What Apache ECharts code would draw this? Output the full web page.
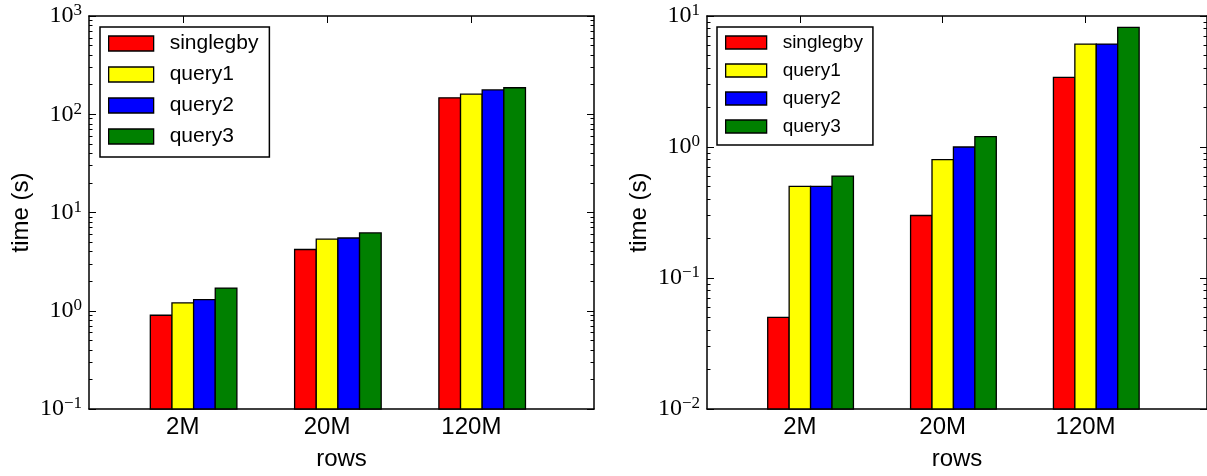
<!DOCTYPE html>
<html>
<head>
<meta charset="utf-8">
<script src="https://cdn.jsdelivr.net/npm/echarts@6/dist/echarts.min.js"></script>
<style>
  html, body { margin: 0; padding: 0; background: #fff; }
  #chart { width: 1207px; height: 476px; }
</style>
</head>
<body>
<div id="chart"></div>
<script>
// categories and series
var categories = ['2M', '20M', '120M'];
var seriesNames = ['singlegby', 'query1', 'query2', 'query3'];
var seriesColors = ['#ff0000', '#ffff00', '#0000ff', '#008000'];

// left panel, time (s)
var leftSinglegby = [0.9, 4.2, 147];
var leftQuery1 = [1.2, 5.35, 160];
var leftQuery2 = [1.3, 5.5, 177];
var leftQuery3 = [1.7, 6.2, 186];

// right panel, time (s)
var rightSinglegby = [0.05, 0.3, 3.4];
var rightQuery1 = [0.5, 0.8, 6.1];
var rightQuery2 = [0.5, 1.0, 6.1];
var rightQuery3 = [0.6, 1.2, 8.2];

// y tick decades (exponents)
var leftDecades = [-1, 0, 1, 2, 3];
var rightDecades = [-2, -1, 0, 1];

var barW = 0.15;                          // bar width in x units
var barOffsets = [-0.15, 0, 0.15, 0.3];   // group layout around each tick
var xMin = -0.65, xMax = 2.85;

var chart = echarts.init(document.getElementById('chart'));

function supLabel(v) {
    var e = Math.round(Math.log10(v));
    return '{b|10}{s|' + (e < 0 ? '\u2212' + (-e) : e) + '}';
}

function minorValues(decades) {
    var out = [];
    for (var i = 0; i < decades.length - 1; i++) {
        for (var k = 2; k <= 9; k++) {
            out.push(+(k * Math.pow(10, decades[i])).toPrecision(3));
        }
    }
    return out;
}

var axisLineStyle = { color: '#000', width: 1.5 };
var xTicks = [0, 1, 2];

function xAxes(grid) {
    return [{
        type: 'value', gridIndex: grid, position: 'bottom', min: xMin, max: xMax,
        axisLine: { show: true, onZero: false, lineStyle: axisLineStyle },
        axisTick: { show: true, inside: true, length: 7, customValues: xTicks, lineStyle: { color: '#000', width: 1 } },
        axisLabel: {
            show: true, customValues: xTicks, margin: 6,
            fontFamily: 'Liberation Sans', fontSize: 24, color: '#000',
            formatter: function (v) { return categories[Math.round(v)]; }
        },
        splitLine: { show: false },
        name: 'rows', nameLocation: 'middle', nameGap: 38,
        nameTextStyle: { fontFamily: 'Liberation Sans', fontSize: 24, color: '#000' }
    }, {
        type: 'value', gridIndex: grid, position: 'top', min: xMin, max: xMax,
        axisLine: { show: true, onZero: false, lineStyle: axisLineStyle },
        axisTick: { show: true, inside: true, length: 7, customValues: xTicks, lineStyle: { color: '#000', width: 1 } },
        axisLabel: { show: false },
        splitLine: { show: false }
    }];
}

function yAxes(grid, decades) {
    var min = Math.pow(10, decades[0]);
    var max = Math.pow(10, decades[decades.length - 1]);
    var major = decades.map(function (e) { return Math.pow(10, e); });
    var minor = minorValues(decades);
    function base(pos) {
        return {
            type: 'log', logBase: 10, gridIndex: grid, position: pos, min: min, max: max,
            splitLine: { show: false }, axisLabel: { show: false }
        };
    }
    var mainAxis = base('left');
    mainAxis.axisLine = { show: true, onZero: false, lineStyle: axisLineStyle };
    mainAxis.axisTick = { show: true, inside: true, length: 7, customValues: major, lineStyle: { color: '#000', width: 1 } };
    mainAxis.axisLabel = {
        show: true, customValues: major, margin: 7, formatter: supLabel,
        rich: {
            b: { fontFamily: 'Liberation Serif', fontSize: 24, color: '#000', lineHeight: 27 },
            s: { fontFamily: 'Liberation Serif', fontSize: 17, color: '#000', lineHeight: 17, verticalAlign: 'top' }
        }
    };
    mainAxis.name = 'time (s)';
    mainAxis.nameLocation = 'middle';
    mainAxis.nameGap = 56;
    mainAxis.nameTextStyle = { fontFamily: 'Liberation Sans', fontSize: 24, color: '#000' };

    var minorLeft = base('left');
    minorLeft.axisLine = { show: false, onZero: false };
    minorLeft.axisTick = { show: true, inside: true, length: 3.5, customValues: minor, lineStyle: { color: '#000', width: 1 } };

    var mainRight = base('right');
    mainRight.axisLine = { show: true, onZero: false, lineStyle: axisLineStyle };
    mainRight.axisTick = { show: true, inside: true, length: 7, customValues: major, lineStyle: { color: '#000', width: 1 } };

    var minorRight = base('right');
    minorRight.axisLine = { show: false, onZero: false };
    minorRight.axisTick = { show: true, inside: true, length: 3.5, customValues: minor, lineStyle: { color: '#000', width: 1 } };

    return [mainAxis, minorLeft, mainRight, minorRight];
}

function barSeries(name, idx, values, xIndex, yIndex, yMin) {
    return {
        type: 'custom', name: name,
        xAxisIndex: xIndex, yAxisIndex: yIndex,
        itemStyle: { color: seriesColors[idx] },
        encode: { x: 0, y: 1 },
        data: values.map(function (v, i) { return [i + barOffsets[idx], v]; }),
        renderItem: function (params, api) {
            var x = api.value(0), y = api.value(1);
            var l = api.coord([x - barW / 2, y]);
            var r = api.coord([x + barW / 2, y]);
            var b = api.coord([x, yMin]);
            return {
                type: 'rect',
                shape: { x: l[0], y: l[1], width: r[0] - l[0], height: b[1] - l[1] },
                style: { fill: api.visual('color'), stroke: '#000', lineWidth: 1.3 }
            };
        }
    };
}

var leftData = [leftSinglegby, leftQuery1, leftQuery2, leftQuery3];
var rightData = [rightSinglegby, rightQuery1, rightQuery2, rightQuery3];

var series = [];
leftData.forEach(function (vals, i) { series.push(barSeries(seriesNames[i], i, vals, 0, 0, 0.1)); });
rightData.forEach(function (vals, i) { series.push(barSeries(seriesNames[i], i, vals, 2, 4, 0.01)); });

function legend(left, top, w, h, gap, fs, pad, textPad) {
    return {
        orient: 'vertical', left: left, top: top, icon: 'rect',
        itemWidth: w, itemHeight: h, itemGap: gap,
        padding: pad, borderColor: '#000', borderWidth: 1.5, backgroundColor: '#fff',
        itemStyle: { borderColor: '#000', borderWidth: 1.3 },
        textStyle: { fontFamily: 'Liberation Sans', fontSize: fs, lineHeight: fs, color: '#000', padding: [0, 0, 0, textPad] },
        data: seriesNames
    };
}

var option = {
    animation: false,
    backgroundColor: '#fff',
    grid: [
        { left: 89, top: 16, width: 505, height: 397 },
        { left: 707, top: 16, width: 505, height: 397 }
    ],
    xAxis: xAxes(0).concat(xAxes(1)),
    yAxis: yAxes(0, leftDecades).concat(yAxes(1, rightDecades)),
    legend: [
        legend(100, 27, 45, 15, 10, 21, [6, 11, 10, 8], 11),
        legend(717, 27, 41, 13, 9, 19, [6, 10, 9, 8], 11)
    ],
    series: series
};

chart.setOption(option);
</script>
</body>
</html>
